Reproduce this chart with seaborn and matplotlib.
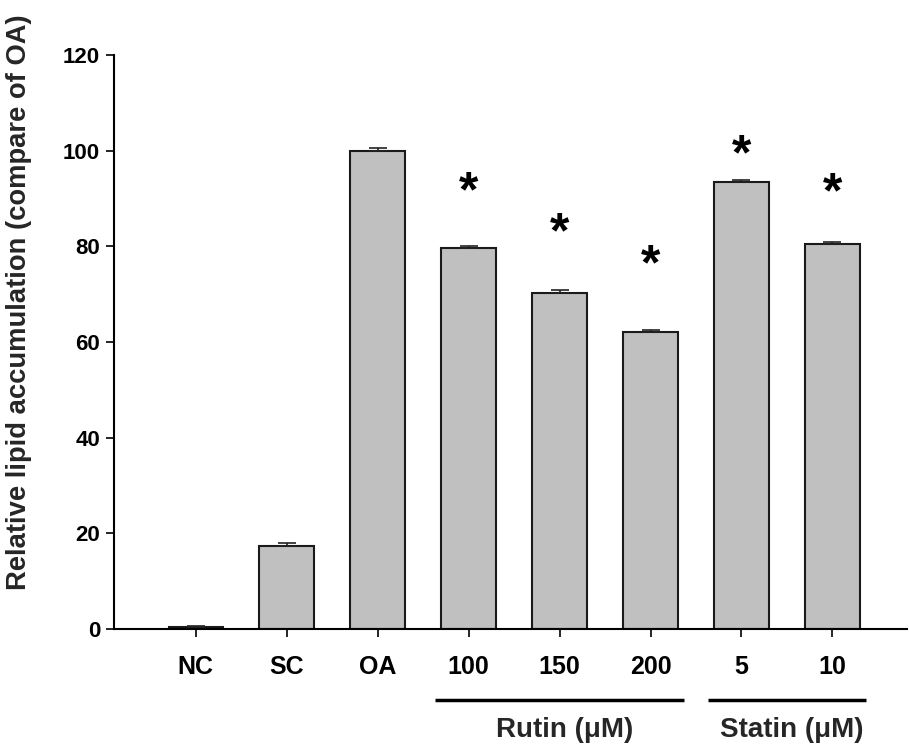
import matplotlib
matplotlib.use("Agg")
import matplotlib.pyplot as plt
import matplotlib.transforms as mtransforms
import seaborn as sns
import pandas as pd
import numpy as np

# ---- data ----
categories = ["NC", "SC", "OA", "100", "150", "200", "5", "10"]
values = [0.4, 17.4, 100.0, 79.6, 70.3, 62.1, 93.5, 80.5]
errors = [0.3, 0.5, 0.5, 0.5, 0.5, 0.5, 0.4, 0.5]
star_cats = ["100", "150", "200", "5", "10"]
star_y = [93.2, 84.5, 77.8, 100.8, 92.8]
yticks = [0, 20, 40, 60, 80, 100, 120]
groups = ["Rutin (\u03bcM)", "Statin (\u03bcM)"]
group_members = [["100", "150", "200"], ["5", "10"]]
ylabel = "Relative lipid accumulation (compare of OA)"

sns.set_theme(style="white")
plt.rcParams["font.family"] = ["Liberation Sans", "DejaVu Sans"]
plt.rcParams["font.weight"] = "bold"

fig = plt.figure(figsize=(9.09, 7.47), dpi=100)
ax = fig.add_axes([0.1254, 0.158, 0.8724, 0.7684])

df = pd.DataFrame({"group": categories, "value": values})
sns.barplot(data=df, x="group", y="value", order=categories, color="#C0C0C0",
            saturation=1, width=0.6, edgecolor="#1a1a1a", linewidth=1.5,
            errorbar=None, ax=ax)

xpos = np.arange(len(categories))
ax.errorbar(xpos, values, yerr=[np.zeros(len(errors)), errors], fmt="none",
            ecolor="#222222", elinewidth=1.2, capsize=6.5, capthick=1.2, zorder=3)

for c, y in zip(star_cats, star_y):
    ax.annotate("*", xy=(categories.index(c), y), xytext=(0, -7),
                textcoords="offset points", ha="center", va="center",
                fontsize=36, fontweight="bold", color="black")

ax.set_xlim(-0.9, len(categories) - 1 + 0.82)
ax.set_ylim(0, 120)
ax.set_yticks(yticks)
ax.set_yticklabels([str(t) for t in yticks])
ax.set_xticks(xpos)
ax.set_xticklabels(categories)
for s in ["top", "right"]:
    ax.spines[s].set_visible(False)
for s in ["left", "bottom"]:
    ax.spines[s].set_color("black")
    ax.spines[s].set_linewidth(1.5)

ax.tick_params(axis="x", direction="out", length=6, width=1.2, colors="black",
               labelsize=18, pad=13, bottom=True)
ax.tick_params(axis="y", direction="out", length=6, width=1.2, colors="black",
               labelsize=16, pad=4, left=True)
for lab in ax.get_xticklabels() + ax.get_yticklabels():
    lab.set_fontweight("bold")

ax.set_xlabel("")
ax.set_ylabel(ylabel, fontsize=19.7, fontweight="bold")
ax.yaxis.set_label_coords(-0.103, 0.57)

trans = mtransforms.blended_transform_factory(ax.transData, ax.transAxes)
for g, mem in zip(groups, group_members):
    i0 = categories.index(mem[0])
    i1 = categories.index(mem[-1])
    ax.plot([i0 - 0.37, i1 + 0.37], [-0.124, -0.124], color="black", lw=2.5,
            transform=trans, clip_on=False, solid_capstyle="butt")
    ax.text((i0 + i1) / 2 + 0.05, -0.176, g, transform=trans, ha="center",
            va="center", fontsize=20, fontweight="bold")

fig.savefig("out.png", dpi=100)
